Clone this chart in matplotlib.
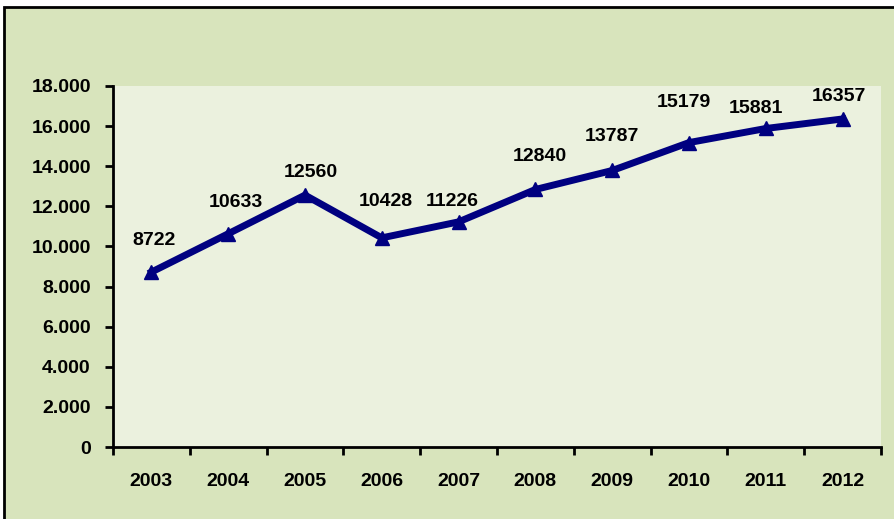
import matplotlib
matplotlib.use("Agg")
import matplotlib.pyplot as plt
from matplotlib.patches import Rectangle
from matplotlib.ticker import FuncFormatter, FixedLocator

years = ["2003", "2004", "2005", "2006", "2007", "2008", "2009", "2010", "2011", "2012"]
values = [8722, 10633, 12560, 10428, 11226, 12840, 13787, 15179, 15881, 16357]
yticks = [0, 2000, 4000, 6000, 8000, 10000, 12000, 14000, 16000, 18000]

# label placement offsets (pixels, relative to the point)
label_dx = [3, 8, 6, 4, -6, 4, 0, -5, -10, -4]
label_dy = [32, 31, 23, 36, 20, 33, 34, 40, 20, 22]

plt.rcParams['font.family'] = ['Liberation Sans', 'DejaVu Sans']
plt.rcParams['font.weight'] = 'bold'

W, H = 895, 519
DPI = 100
fig = plt.figure(figsize=(W / DPI, H / DPI), dpi=DPI)
fig.patch.set_facecolor("white")

# outer chart area with border
fig.patches.append(Rectangle((4 / W, 0 - 2 / H), (W + 2 - 4) / W, (H - 7 + 2) / H,
                             transform=fig.transFigure, facecolor="#D8E4BC",
                             edgecolor="black", linewidth=2, zorder=-5))

ax = fig.add_axes([113 / W, 1 - 447 / H, (881 - 113) / W, (447 - 86) / H])
ax.set_zorder(1)
ax.set_facecolor("#EBF1DE")

x = list(range(len(years)))
ax.plot(x, values, color="#000080", linewidth=5, marker="^", markersize=10,
        markerfacecolor="#000080", markeredgecolor="#000080", solid_joinstyle="miter",
        zorder=3)

px2pt = 72 / DPI
for xi, v, dx, dy in zip(x, values, label_dx, label_dy):
    ax.annotate(str(v), (xi, v), xytext=(dx * px2pt, dy * px2pt), textcoords="offset points",
                ha="center", va="center", fontsize=14, fontweight="bold", color="black")

ax.set_xlim(-0.5, len(years) - 0.5)
ax.set_ylim(0, 18000)
ax.yaxis.set_major_locator(FixedLocator(yticks))
ax.yaxis.set_major_formatter(FuncFormatter(lambda v, p: f"{int(v):,}".replace(",", ".")))

ax.set_xticks([i - 0.5 for i in range(len(years) + 1)])
ax.set_xticklabels([])
ax.set_xticks(x, minor=True)
ax.set_xticklabels(years, minor=True)
ax.tick_params(axis="x", which="minor", length=0, pad=19, labelsize=14)
ax.tick_params(axis="x", which="major", length=6, width=2, direction="out")
ax.tick_params(axis="y", length=6, width=2, direction="out", pad=10, labelsize=14)

for lab in ax.get_xticklabels(minor=True) + ax.get_yticklabels():
    lab.set_fontweight("bold")

for s in ["top", "right"]:
    ax.spines[s].set_visible(False)
for s in ["left", "bottom"]:
    ax.spines[s].set_linewidth(2)
    ax.spines[s].set_color("black")

fig.savefig("out.png", dpi=DPI, facecolor=fig.get_facecolor())
